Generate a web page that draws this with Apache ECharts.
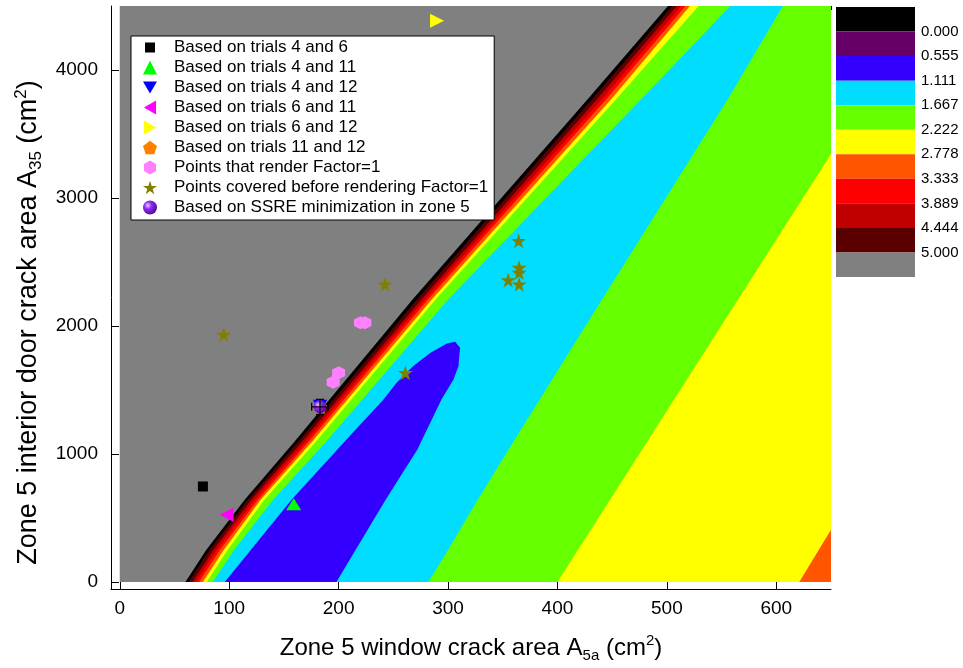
<!DOCTYPE html>
<html>
<head>
<meta charset="utf-8">
<title>Zone 5 crack areas</title>
<script src="https://cdn.jsdelivr.net/npm/echarts@6/dist/echarts.min.js"></script>
<style>
  html, body { margin: 0; padding: 0; background: #fff; }
  #chart { width: 963px; height: 668px; }
</style>
</head>
<body>
<div id="chart"></div>
<script>
// contour band edges: x (cm2) read at these A35 heights
const edgeY        = [0, 250, 640, 1100, 2210, 3775, 4500];
const grayEdgeX    = [60, 79, 114, 160, 268, 428, 501];
const blackEdgeX   = [63, 82, 117, 163.5, 272, 432, 505];
const maroonEdgeX  = [66.5, 85.5, 120, 167, 276, 436.5, 509];
const crimsonEdgeX = [69.5, 88.5, 123, 170, 279, 441, 513];
const redEdgeX     = [72.5, 91.5, 126, 173, 282, 445, 517];
const orangeEdgeX  = [76, 95, 128.5, 176, 285.5, 449.5, 521];
const yellowEdgeX  = [79.5, 98.5, 132, 179.5, 289, 454, 529];
const greenEdgeX   = [85, 104.5, 140, 189, 300.5, 477, 558];
const cyanRightX   = [282, 300, 327, 360, 441, 556, 606];
const greenYellowLine  = [[650, 3344], [400, 0]];
const yellowOrangeLine = [[650, 407], [621, 0]];
const blueLoop = [
  [96, 0], [157, 642], [207, 1112], [241, 1425], [253, 1556], [268, 1686],
  [284, 1791], [299, 1864], [306.5, 1877], [311, 1830], [309.5, 1686],
  [305, 1582], [294, 1425], [272, 1034], [243, 642], [198, 0]
];

// colour scale
const levelLabels = ['0.000', '0.555', '1.111', '1.667', '2.222', '2.778', '3.333', '3.889', '4.444', '5.000'];
const levelColors = ['#000000', '#660066', '#3300ff', '#00ddff', '#66ff00', '#ffff00',
                     '#ff5500', '#ff0000', '#c00000', '#5a0000', '#808080'];

// points
const trials4and6   = [[76, 746]];
const trials4and11  = [[159, 608]];
const trials4and12  = [[183, 1368]];
const trials6and11  = [[97.6, 525]];
const trials6and12  = [[290, 4385]];
const trials11and12 = [[183, 1368]];
const factorOnePoints = [[195, 1561], [200, 1634], [220, 2026], [224, 2026]];
const coveredPoints = [[95, 1934], [242.5, 2326], [261, 1634], [364.5, 2665],
                       [365, 2456], [365, 2417], [355, 2359], [365, 2326]];
const ssrePoint = [[183, 1368]];
const ssreError = [7.6, 59];

const xMajorTicks = [0, 100, 200, 300, 400, 500, 600];
const xMinorTicks = [50, 150, 250, 350, 450, 550, 650];
const yMajorTicks = [0, 1000, 2000, 3000, 4000];
const yMinorTicks = [500, 1500, 2500, 3500, 4500];

const FONT = 'Liberation Sans';
const downTri  = 'path://M0,0L2,0L1,1.732Z';
const leftTri  = 'path://M0,1L1.732,0L1.732,2Z';
const rightTri = 'path://M0,0L1.732,1L0,2Z';
const pentagon = 'path://M1,0L1.951,0.691L1.588,1.809L0.412,1.809L0.049,0.691Z';
const hexagon  = 'path://M0.866,0L1.732,0.5L1.732,1.5L0.866,2L0,1.5L0,0.5Z';
const star = 'path://M1,0L1.2245,0.691L1.951,0.691L1.363,1.118L1.588,1.809L1,1.382L0.412,1.809L0.637,1.118L0.049,0.691L0.7755,0.691Z';
const smallSquare = 'path://M0,0M14,14M2,2L12,2L12,12L2,12Z';
const sphere = {
  type: 'radial', x: 0.35, y: 0.35, r: 0.75,
  colorStops: [{ offset: 0, color: '#e8d0ff' }, { offset: 0.35, color: '#8c2cf0' }, { offset: 1, color: '#4a0090' }]
};

function edge(xs) {
  return xs.map((x, i) => [x, edgeY[i]]);
}

const contourRegions = [
  { color: levelColors[10], pts: [[0, 0], [0, 4500], [650, 4500], [650, 0]] },
  { color: levelColors[0], pts: edge(grayEdgeX).concat([[650, 4500], [650, 0]]) },
  { color: levelColors[9], pts: edge(blackEdgeX).concat([[650, 4500], [650, 0]]) },
  { color: levelColors[8], pts: edge(maroonEdgeX).concat([[650, 4500], [650, 0]]) },
  { color: levelColors[7], pts: edge(crimsonEdgeX).concat([[650, 4500], [650, 0]]) },
  { color: levelColors[6], pts: edge(redEdgeX).concat([[650, 4500], [650, 0]]) },
  { color: levelColors[5], pts: edge(orangeEdgeX).concat([[650, 4500]], yellowOrangeLine) },
  { color: levelColors[4], pts: edge(yellowEdgeX).concat([[650, 4500]], greenYellowLine) },
  { color: levelColors[3], pts: edge(greenEdgeX).concat(edge(cyanRightX).reverse()) },
  { color: levelColors[2], pts: blueLoop }
];

const chart = echarts.init(document.getElementById('chart'));

const tickLine = { color: '#000', width: 1 };
const titleRich = {
  sub: { fontFamily: FONT, fontSize: 15, verticalAlign: 'bottom', padding: [12, 0, 0, 0] },
  sup: { fontFamily: FONT, fontSize: 15, verticalAlign: 'top', padding: [0, 0, 10, 0] }
};
const yTitleRich = {
  sub: { fontFamily: FONT, fontSize: 17, verticalAlign: 'bottom', padding: [13, 0, 0, 0] },
  sup: { fontFamily: FONT, fontSize: 17, verticalAlign: 'top', padding: [0, 0, 11, 0] }
};

function scatter(name, data, symbol, size, color, extra) {
  return Object.assign({
    name: name, type: 'scatter', xAxisIndex: 0, yAxisIndex: 0, z: 5,
    symbol: symbol, symbolSize: size, data: data,
    itemStyle: { color: color, opacity: 1 }
  }, extra || {});
}

let option = {
  animation: false,
  backgroundColor: '#fff',
  grid: [
    { left: 111, right: 132, top: 6, bottom: 79 },
    { left: 836, top: 7, width: 79, height: 270 }
  ],
  xAxis: [
    {
      type: 'value', gridIndex: 0, min: -8, max: 650,
      axisLine: { show: true, onZero: false, lineStyle: tickLine },
      axisTick: { inside: true, length: 7, customValues: xMajorTicks, lineStyle: tickLine },
      axisLabel: { customValues: xMajorTicks, formatter: v => String(v), fontFamily: FONT, fontSize: 19, color: '#000', margin: 10 },
      splitLine: { show: false },
      name: 'Zone 5 window crack area A{sub|5a} (cm{sup|2})',
      nameLocation: 'middle', nameGap: 44,
      nameTextStyle: { fontFamily: FONT, fontSize: 24, color: '#000', lineHeight: 30, rich: titleRich }
    },
    {
      type: 'value', gridIndex: 0, min: -8, max: 650,
      axisLine: { show: false, onZero: false },
      axisTick: { inside: true, length: 4, customValues: xMinorTicks, lineStyle: tickLine },
      axisLabel: { show: false },
      splitLine: { show: false }
    },
    {
      type: 'value', gridIndex: 1, min: 0, max: 1, show: false
    }
  ],
  yAxis: [
    {
      type: 'value', gridIndex: 0, min: -55, max: 4500,
      axisLine: { show: true, onZero: false, lineStyle: tickLine },
      axisTick: { inside: true, length: 8, customValues: yMajorTicks, lineStyle: tickLine },
      axisLabel: { customValues: yMajorTicks, formatter: v => String(v), fontFamily: FONT, fontSize: 19, color: '#000', margin: 13 },
      splitLine: { show: false },
      name: 'Zone 5 interior door crack area A{sub|35} (cm{sup|2})',
      nameLocation: 'middle', nameGap: 63, nameRotate: 90,
      nameTextStyle: {
        fontFamily: FONT, fontSize: 27, color: '#000', lineHeight: 32,
        padding: [0, 50, 0, 0], rich: yTitleRich
      }
    },
    {
      type: 'value', gridIndex: 0, min: -55, max: 4500,
      axisLine: { show: false, onZero: false },
      axisTick: { inside: true, length: 4, customValues: yMinorTicks, lineStyle: tickLine },
      axisLabel: { show: false },
      splitLine: { show: false }
    },
    {
      type: 'value', gridIndex: 1, min: 0, max: 11, inverse: true, position: 'right',
      axisLine: { show: false }, axisTick: { show: false }, splitLine: { show: false },
      axisLabel: {
        customValues: [1, 2, 3, 4, 5, 6, 7, 8, 9, 10],
        formatter: v => levelLabels[v - 1],
        fontFamily: FONT, fontSize: 15, color: '#000', margin: 6
      }
    }
  ],
  legend: {
    orient: 'vertical', left: 131, top: 36,
    backgroundColor: '#fff', borderColor: '#000', borderWidth: 1,
    padding: [3, 6, 4, 12],
    itemWidth: 14, itemHeight: 14, itemGap: 3,
    selectedMode: false,
    textStyle: { fontFamily: FONT, fontSize: 17, color: '#000', padding: [0, 0, 0, 12] },
    data: [
      { name: 'Based on trials 4 and 6', icon: smallSquare },
      'Based on trials 4 and 11',
      'Based on trials 4 and 12',
      'Based on trials 6 and 11',
      'Based on trials 6 and 12',
      'Based on trials 11 and 12',
      'Points that render Factor=1',
      'Points covered before rendering Factor=1',
      'Based on SSRE minimization in zone 5'
    ]
  },
  series: [
    {
      type: 'custom', name: 'contour', xAxisIndex: 0, yAxisIndex: 0, z: 1, silent: true,
      data: contourRegions.map((r, i) => [i, 0]),
      renderItem(params, api) {
        const region = contourRegions[api.value(0)];
        return {
          type: 'polygon',
          shape: { points: region.pts.map(p => api.coord(p)) },
          style: { fill: region.color }
        };
      }
    },
    {
      type: 'custom', name: 'colorbar', xAxisIndex: 2, yAxisIndex: 2, silent: true,
      data: levelColors.map((c, i) => [i, 0]),
      renderItem(params, api) {
        const i = api.value(0);
        const a = api.coord([0, i]);
        const b = api.coord([1, i + 1]);
        return {
          type: 'rect',
          shape: { x: a[0], y: a[1], width: b[0] - a[0], height: b[1] - a[1] },
          style: { fill: levelColors[i] }
        };
      }
    },
    scatter('Based on trials 4 and 6', trials4and6, 'rect', 10, '#000000'),
    scatter('Based on trials 4 and 11', trials4and11, 'triangle', [15, 12], '#00ff00'),
    scatter('Based on trials 4 and 12', trials4and12, downTri, 14, '#0000ff'),
    scatter('Based on trials 6 and 11', trials6and11, leftTri, 14, '#ff00ff'),
    scatter('Based on trials 6 and 12', trials6and12, rightTri, 14, '#ffff00'),
    scatter('Based on trials 11 and 12', trials11and12, pentagon, 14, '#ff8000'),
    scatter('Points that render Factor=1', factorOnePoints, hexagon, 13, '#ff80ff'),
    scatter('Points covered before rendering Factor=1', coveredPoints, star, 15, '#808000'),
    scatter('Based on SSRE minimization in zone 5', ssrePoint, 'circle', 13, sphere, { z: 6 }),
    {
      type: 'custom', name: 'ssre error', xAxisIndex: 0, yAxisIndex: 0, z: 7, silent: true,
      data: ssrePoint,
      renderItem(params, api) {
        const x = api.value(0), y = api.value(1);
        const l = api.coord([x - ssreError[0], y]);
        const r = api.coord([x + ssreError[0], y]);
        const t = api.coord([x, y + ssreError[1]]);
        const b = api.coord([x, y - ssreError[1]]);
        const st = { stroke: '#000', lineWidth: 1.2 };
        const seg = (x1, y1, x2, y2) => ({ type: 'line', shape: { x1, y1, x2, y2 }, style: st });
        return {
          type: 'group',
          children: [
            seg(l[0], l[1], r[0], r[1]),
            seg(l[0], l[1] - 4, l[0], l[1] + 4),
            seg(r[0], r[1] - 4, r[0], r[1] + 4),
            seg(t[0], t[1], b[0], b[1]),
            seg(t[0] - 4, t[1], t[0] + 4, t[1]),
            seg(b[0] - 4, b[1], b[0] + 4, b[1])
          ]
        };
      }
    }
  ]
};

chart.setOption(option);
</script>
</body>
</html>
